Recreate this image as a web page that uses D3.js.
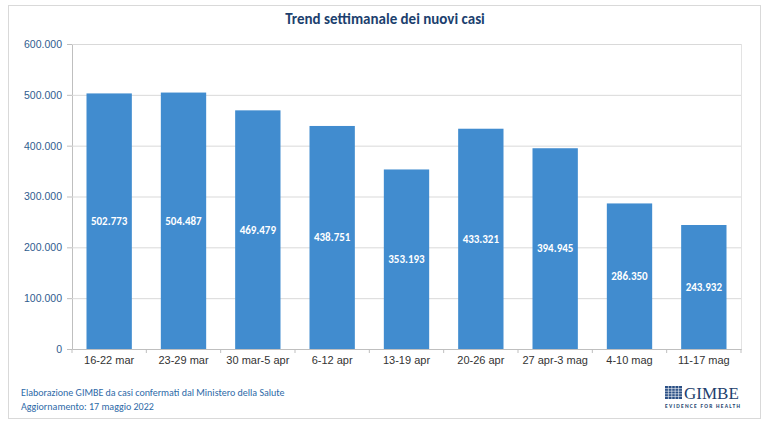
<!DOCTYPE html>
<html lang="it">
<head>
<meta charset="UTF-8">
<title>Trend settimanale dei nuovi casi</title>
<style>
  html, body { margin: 0; padding: 0; background: #fff; }
  svg { display: block; font-family: Calibri, "Open Sans", "Liberation Sans", sans-serif; }
</style>
</head>
<body>
<div id="chart"></div>
<script src="https://d3js.org/d3.v7.min.js"></script>
<script>
// data
const weeks = ["16-22 mar", "23-29 mar", "30 mar-5 apr", "6-12 apr", "13-19 apr",
               "20-26 apr", "27 apr-3 mag", "4-10 mag", "11-17 mag"];
const newCases = [502773, 504487, 469479, 438751, 353193, 433321, 394945, 286350, 243932];
const yTicks = [0, 100000, 200000, 300000, 400000, 500000, 600000];

const W = 767, H = 424;
const plot = {left: 72, right: 741, top: 44, bottom: 349};

const svg = d3.select("#chart").append("svg")
    .attr("width", W).attr("height", H);

// outer frame
svg.append("rect")
    .attr("x", 8.5).attr("y", 5.5)
    .attr("width", 752).attr("height", 413)
    .attr("fill", "#fff").attr("stroke", "#d9d9d9");

// title
svg.append("text")
    .attr("x", 385).attr("y", 24)
    .attr("text-anchor", "middle")
    .style("font-size", "15px").style("font-weight", "bold")
    .attr("fill", "#1c3f6e")
    .text("Trend settimanale dei nuovi casi");

const x = d3.scaleBand()
    .domain(weeks)
    .range([plot.left, plot.right])
    .paddingInner(0.39).paddingOuter(0.195);

const y = d3.scaleLinear()
    .domain([0, 600000])
    .range([plot.bottom, plot.top]);

const fmt = d3.formatLocale({decimal: ",", thousands: ".", grouping: [3], currency: ["", "€"]}).format(",d");

// plot area frame
svg.append("rect")
    .attr("x", plot.left + 0.5).attr("y", plot.top + 0.5)
    .attr("width", plot.right - plot.left).attr("height", plot.bottom - plot.top)
    .attr("fill", "none").attr("stroke", "#e3e3e3");

// y axis with gridlines
const yAxis = svg.append("g")
    .attr("transform", `translate(${plot.left},0)`)
    .call(d3.axisLeft(y).tickValues(yTicks).tickFormat(d => fmt(d))
        .tickSize(-(plot.right - plot.left)).tickPadding(10));
yAxis.select(".domain").attr("stroke", "#bfbfbf");
yAxis.selectAll(".tick line").attr("stroke", "#d9d9d9");
yAxis.selectAll(".tick text")
    .attr("fill", "#2f5d8f")
    .style("font-size", "10.5px");
// small outward tick marks
yAxis.selectAll(".tick").append("line")
    .attr("x1", -5).attr("x2", 0)
    .attr("stroke", "#bfbfbf");

// bars
svg.selectAll(".bar")
  .data(newCases)
  .join("rect")
    .attr("class", "bar")
    .attr("x", (d, i) => x(weeks[i]))
    .attr("y", d => y(d))
    .attr("width", x.bandwidth())
    .attr("height", d => y(0) - y(d))
    .attr("fill", "#418ccf");

// value labels
svg.selectAll(".val")
  .data(newCases)
  .join("text")
    .attr("class", "val")
    .attr("x", (d, i) => x(weeks[i]) + x.bandwidth() / 2)
    .attr("y", d => (y(d) + y(0)) / 2)
    .attr("dy", "0.35em")
    .attr("text-anchor", "middle")
    .attr("fill", "#fff")
    .style("font-size", "11px").style("font-weight", "600")
    .text(d => fmt(d));

// x axis
const xAxis = svg.append("g")
    .attr("transform", `translate(0,${plot.bottom})`)
    .call(d3.axisBottom(x).tickSize(0).tickPadding(7));
xAxis.select(".domain").attr("stroke", "#bfbfbf");
xAxis.selectAll(".tick text")
    .attr("fill", "#333")
    .style("font-size", "11px");
// category separators
xAxis.selectAll(".sep")
  .data(d3.range(weeks.length + 1))
  .join("line")
    .attr("class", "sep")
    .attr("x1", i => plot.left + i * (plot.right - plot.left) / weeks.length)
    .attr("x2", i => plot.left + i * (plot.right - plot.left) / weeks.length)
    .attr("y1", 0).attr("y2", 4)
    .attr("stroke", "#bfbfbf");

// footer
const foot = svg.append("g").attr("fill", "#2e6aa8").style("font-size", "10px");
foot.append("text").attr("x", 21).attr("y", 396)
    .text("Elaborazione GIMBE da casi confermati dal Ministero della Salute");
foot.append("text").attr("x", 21).attr("y", 410)
    .text("Aggiornamento: 17 maggio 2022");

// GIMBE logo
const logo = svg.append("g").attr("transform", "translate(665,386)");
logo.append("rect").attr("width", 17).attr("height", 13).attr("fill", "#2a4f85");
for (let i = 1; i < 5; i++) {
  logo.append("line").attr("x1", i * 3.4).attr("x2", i * 3.4).attr("y1", 0).attr("y2", 13)
      .attr("stroke", "#fff").attr("stroke-width", 0.6);
  logo.append("line").attr("x1", 0).attr("x2", 17).attr("y1", i * 2.6).attr("y2", i * 2.6)
      .attr("stroke", "#fff").attr("stroke-width", 0.6);
}
logo.append("text").attr("x", 19).attr("y", 13)
    .attr("fill", "#233f6e")
    .style("font-family", "'Liberation Serif', 'DejaVu Serif', serif")
    .style("font-size", "17px")
    .text("GIMBE");
logo.append("text").attr("x", 0).attr("y", 22)
    .attr("fill", "#233f6e")
    .style("font-size", "5.5px").style("font-weight", "bold")
    .attr("textLength", 75)
    .text("EVIDENCE FOR HEALTH");
</script>
</body>
</html>
